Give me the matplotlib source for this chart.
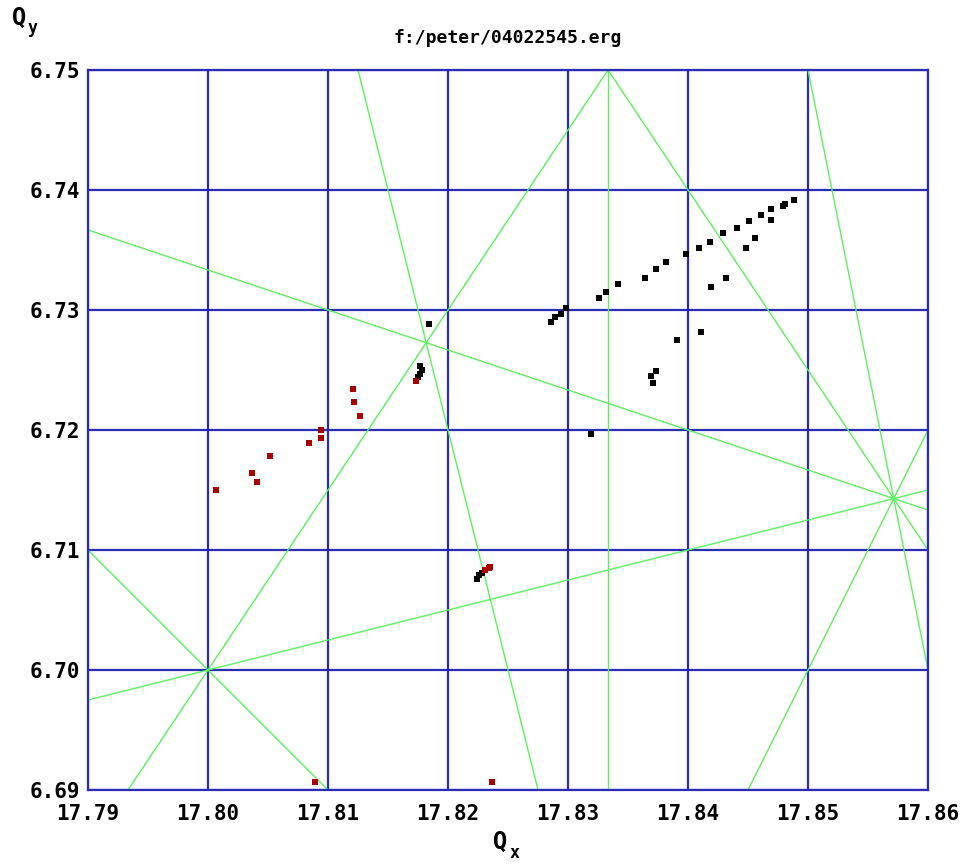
import matplotlib
matplotlib.use("Agg")
import matplotlib.pyplot as plt
import numpy as np

# tune diagram data
black_qx = [17.8286, 17.8289, 17.8294, 17.8298, 17.8326, 17.8332, 17.8342, 17.8364,
            17.8373, 17.8382, 17.8398, 17.8409, 17.8418, 17.8429, 17.8441, 17.8451,
            17.8461, 17.8469, 17.8479, 17.8481, 17.8488, 17.8469, 17.8456, 17.8448,
            17.8432, 17.8419, 17.8411, 17.8391, 17.8373, 17.8369, 17.8371, 17.8319,
            17.8184, 17.8177, 17.8178, 17.8177, 17.8175, 17.8224, 17.8226, 17.8228]
black_qy = [6.7290, 6.7294, 6.7297, 6.7302, 6.7310, 6.7315, 6.7322, 6.7327,
            6.7334, 6.7340, 6.7347, 6.7352, 6.7357, 6.7364, 6.7368, 6.7374,
            6.7379, 6.7384, 6.7387, 6.7388, 6.7392, 6.7375, 6.7360, 6.7352,
            6.7327, 6.7319, 6.7282, 6.7275, 6.7249, 6.7245, 6.7239, 6.7197,
            6.7288, 6.7253, 6.7250, 6.7247, 6.7244, 6.7076, 6.7079, 6.7081]

red_qx = [17.8007, 17.8037, 17.8041, 17.8052, 17.8084, 17.8094, 17.8094, 17.8121,
          17.8122, 17.8127, 17.8173, 17.8231, 17.8234, 17.8235, 17.8089, 17.8237]
red_qy = [6.7150, 6.7164, 6.7157, 6.7178, 6.7189, 6.7193, 6.7200, 6.7234,
          6.7223, 6.7212, 6.7241, 6.7083, 6.7085, 6.7086, 6.6907, 6.6907]

# resonance lines a*Qx + b*Qy = c
res_a = [1, 1, 1, 3, 3, 3, 5, 4, 2]
res_b = [3, 1, -4, -2, 0, 2, 1, 1, -1]
res_c = [38, 24.5, -9, 40, 53.5, 67, 96, 78, 29]

x_ticks = [17.79, 17.80, 17.81, 17.82, 17.83, 17.84, 17.85, 17.86]
y_ticks = [6.69, 6.70, 6.71, 6.72, 6.73, 6.74, 6.75]

grid_col = '#2b2bb5'
green = '#5cf05c'
mono = 'DejaVu Sans Mono'

fig = plt.figure(figsize=(9.69, 8.64), dpi=100)
ax = fig.add_axes([88 / 969, 1 - 790 / 864, 840 / 969, 720 / 864])

xmin, xmax = x_ticks[0], x_ticks[-1]
ymin, ymax = y_ticks[0], y_ticks[-1]

# resonance lines
xs = np.array([xmin, xmax])
for a, b, c in zip(res_a, res_b, res_c):
    if b == 0:
        ax.axvline(c / a, color=green, lw=1.0, zorder=2)
    else:
        ax.plot(xs, (c - a * xs) / b, color=green, lw=1.0, zorder=2)

# grid
for xv in x_ticks:
    ax.axvline(xv, color=grid_col, lw=1.6, zorder=1)
for yv in y_ticks:
    ax.axhline(yv, color=grid_col, lw=1.6, zorder=1)

ax.plot(black_qx, black_qy, 's', color='black', ms=4.2, mew=0, zorder=3)
ax.plot(red_qx, red_qy, 's', color='#a80000', ms=4.2, mew=0, zorder=3)

ax.set_xlim(xmin, xmax)
ax.set_ylim(ymin, ymax)
for s in ax.spines.values():
    s.set_color(grid_col)
    s.set_linewidth(1.6)

ax.set_xticks(x_ticks)
ax.set_yticks(y_ticks)
ax.set_xticklabels(['%.2f' % v for v in x_ticks], family=mono, weight='bold', fontsize=15)
ax.set_yticklabels(['%.2f' % v for v in y_ticks], family=mono, weight='bold', fontsize=15)
ax.tick_params(axis='x', length=0, pad=10)
ax.tick_params(axis='y', length=0, pad=6)

fig.text(508 / 969, 1 - 38 / 864, 'f:/peter/04022545.erg', family=mono,
         weight='bold', fontsize=13, ha='center', va='center')

# axis names with subscripts
fig.text(12 / 969, 1 - 18 / 864, 'Q', family=mono, weight='bold', fontsize=17,
         ha='left', va='center')
fig.text(28 / 969, 1 - 28 / 864, 'y', family=mono, weight='bold', fontsize=12,
         ha='left', va='center')
fig.text(493 / 969, 1 - 842 / 864, 'Q', family=mono, weight='bold', fontsize=17,
         ha='left', va='center')
fig.text(510 / 969, 1 - 853 / 864, 'x', family=mono, weight='bold', fontsize=12,
         ha='left', va='center')

fig.savefig('out.png', dpi=100)
